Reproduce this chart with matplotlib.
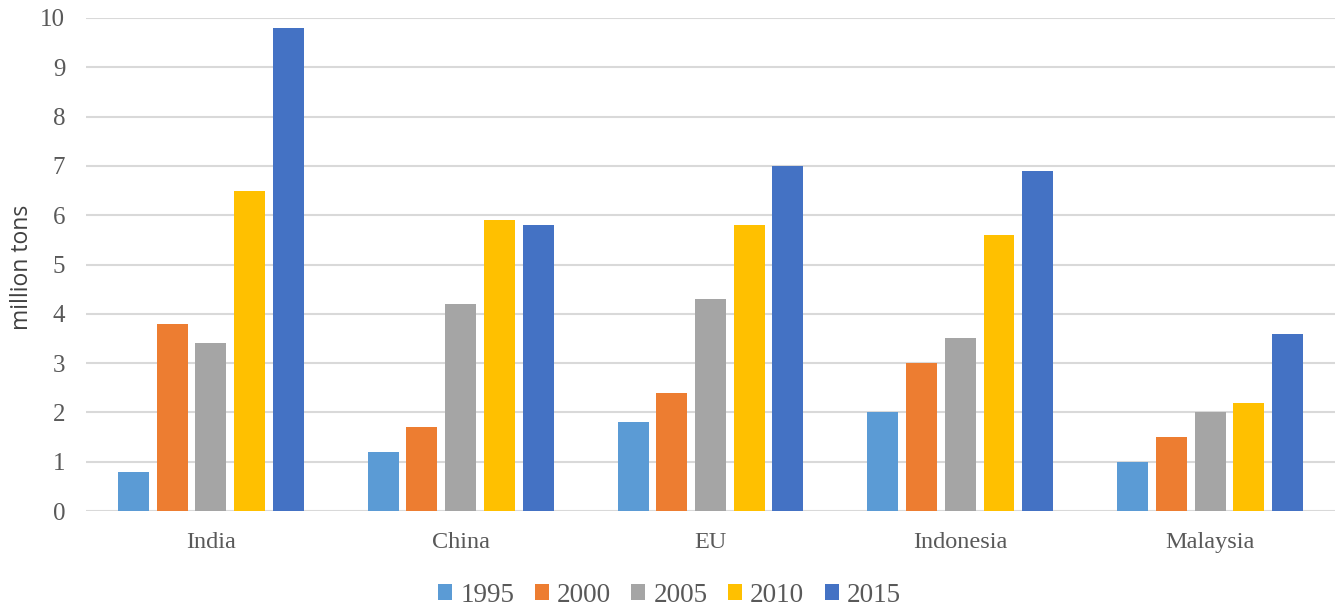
import matplotlib
matplotlib.use("Agg")
import matplotlib.pyplot as plt
import numpy as np

categories = ["India", "China", "EU", "Indonesia", "Malaysia"]
years = ["1995", "2000", "2005", "2010", "2015"]
v1995 = [0.8, 1.2, 1.8, 2.0, 1.0]
v2000 = [3.8, 1.7, 2.4, 3.0, 1.5]
v2005 = [3.4, 4.2, 4.3, 3.5, 2.0]
v2010 = [6.5, 5.9, 5.8, 5.6, 2.2]
v2015 = [9.8, 5.8, 7.0, 6.9, 3.6]
series = [v1995, v2000, v2005, v2010, v2015]
colors = ["#5B9BD5", "#ED7D31", "#A5A5A5", "#FFC000", "#4472C4"]

fig = plt.figure(figsize=(13.39, 6.08), dpi=100)
ax = fig.add_axes([0.0642, 0.1595, 0.9328, 0.8109])

x = np.arange(len(categories))
step = 0.155
width = 0.124
for i, (vals, c, lab) in enumerate(zip(series, colors, years)):
    ax.bar(x + (i - 2) * step, vals, width=width, color=c, label=lab, zorder=3)

ax.set_xlim(-0.5, len(categories) - 0.5)
ax.set_ylim(0, 10)
ax.set_yticks(range(0, 11))
ax.yaxis.grid(True, color="#D9D9D9", linewidth=1.5, zorder=0)
for s in ax.spines.values():
    s.set_visible(False)
ax.tick_params(axis="both", length=0)
ax.set_xticks(x)
ax.set_xticklabels(categories, fontfamily="Liberation Serif", fontsize=17.5, color="#595959")
for t in ax.get_yticklabels():
    t.set_fontfamily("Liberation Serif")
    t.set_fontsize(18)
    t.set_color("#595959")
ax.tick_params(axis="y", pad=15)
ax.tick_params(axis="x", pad=15)
ax.set_ylabel("million tons", fontfamily="Open Sans", fontsize=16.5, color="#404040")
ax.yaxis.set_label_coords(-0.042, 0.495)

leg = fig.legend(loc="center", bbox_to_anchor=(0.5, 1 - 595 / 608), ncol=5, frameon=False,
                 prop={"family": "Liberation Serif", "size": 19.5},
                 handlelength=0.52, handleheight=0.52, handletextpad=0.3, columnspacing=0.75)
for t in leg.get_texts():
    t.set_color("#595959")

fig.savefig("out.png", dpi=100)
